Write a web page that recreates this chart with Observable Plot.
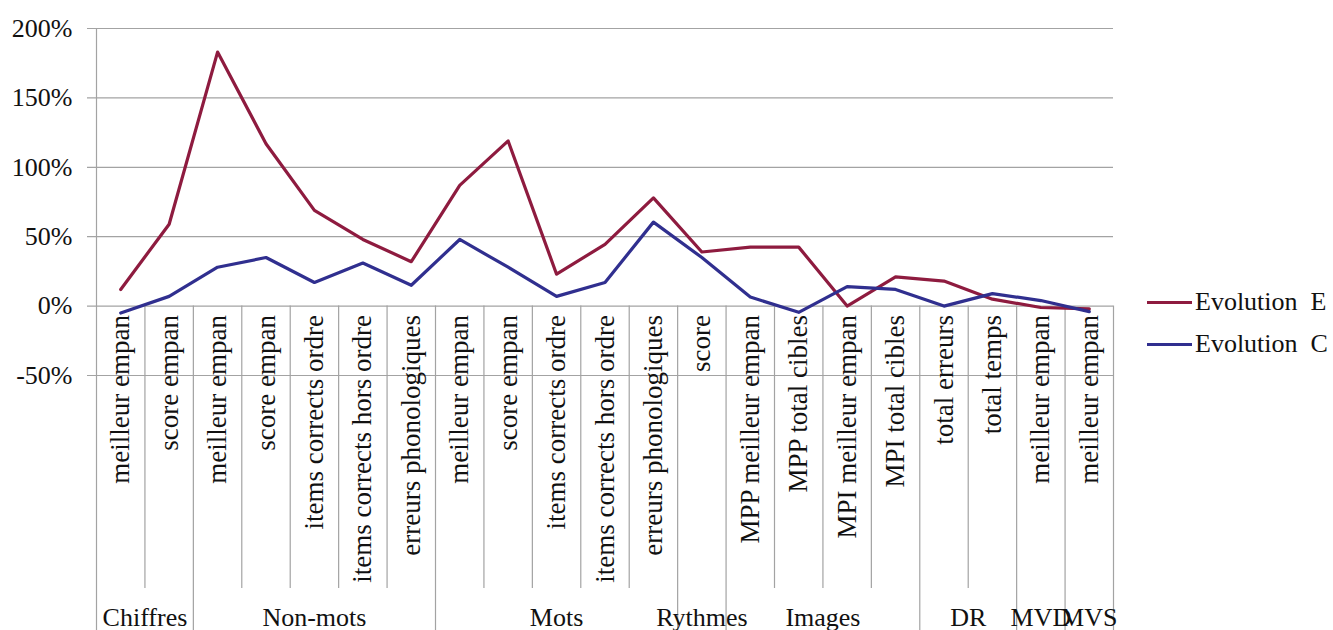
<!DOCTYPE html>
<html><head><meta charset="utf-8">
<script src="https://cdn.jsdelivr.net/npm/d3@7"></script>
<script src="https://cdn.jsdelivr.net/npm/@observablehq/plot@0.6"></script>
<style>
body{margin:0;background:#fff;}
#wrap{position:relative;width:1333px;height:630px;overflow:hidden;}
#legend{position:absolute;left:1147px;top:281px;font-family:'Liberation Serif',serif;font-size:26px;color:#111;}
.row{display:flex;align-items:center;height:42px;white-space:pre;}
.sw{width:45px;height:3px;margin-right:3px;}
</style></head><body><div id="wrap"><div id="legend"></div></div>
<script>
// ---- data ----
const categories = ["meilleur empan","score empan","meilleur empan","score empan","items corrects ordre","items corrects hors ordre","erreurs phonologiques","meilleur empan","score empan","items corrects ordre","items corrects hors ordre","erreurs phonologiques","score","MPP meilleur empan","MPP total cibles","MPI meilleur empan","MPI total cibles","total erreurs","total temps","meilleur empan","meilleur empan"];
const groupNames = ["Chiffres","Non-mots","Mots","Rythmes","Images","DR","MVD","MVS"];
const groupSizes = [2,5,5,1,4,2,1,1];
const evolutionE = [12,59,183,117,69,48,32,87,119,23,44.5,78,39,42.5,42.5,0,21,18,5,-1,-2];
const evolutionC = [-5,7,28,35,17,31,15,48,28,7,17,60.5,35,6.5,-4.5,14,12,0,9,4,-4];
const yTicks = [-50,0,50,100,150,200];
const seriesNames = ["Evolution  E","Evolution  C"];
const seriesColors = ["#8e1b3f","#302f8f"];

// ---- derived tables ----
const rows = categories.map((label,i)=>({pos:i+0.5,label}));
const long = [
  ...evolutionE.map((v,i)=>({pos:i+0.5,value:v,series:seriesNames[0]})),
  ...evolutionC.map((v,i)=>({pos:i+0.5,value:v,series:seriesNames[1]}))
];
const edges = [0]; groupSizes.forEach(n=>edges.push(edges[edges.length-1]+n));
const groups = groupNames.map((name,k)=>({name,center:(edges[k]+edges[k+1])/2}));
const inner = d3.range(1,categories.length).filter(v=>!edges.includes(v));
const groupEdges = edges.filter(v=>v>0);

const font = "Liberation Serif";
const grid = "#a3a3a3";

const chart = Plot.plot({
  width:1333, height:630,
  marginLeft:96, marginRight:220, marginTop:28, marginBottom:255,
  style:{fontFamily:font,fontSize:"26px",color:"#111",background:"transparent",overflow:"visible"},
  x:{domain:[0,categories.length],axis:null},
  y:{domain:[-50,200],label:null,axis:null},
  color:{domain:seriesNames,range:seriesColors},
  marks:[
    Plot.ruleY(yTicks,{stroke:grid,strokeWidth:1.2,insetLeft:-9}),
    Plot.ruleX([0],{y1:200,y2:-50,insetBottom:-255,stroke:grid,strokeWidth:1.2}),
    Plot.ruleX(groupEdges,{y1:0,y2:-50,insetBottom:-255,stroke:grid,strokeWidth:1.2}),
    Plot.ruleX(inner,{y1:0,y2:-50,insetBottom:-213,stroke:grid,strokeWidth:1.2}),
    Plot.axisY(yTicks,{tickSize:0,tickPadding:24,tickFormat:d=>d+"%",fontSize:26,fontFamily:font,fill:"#111",label:null}),
    Plot.text(rows,{x:"pos",y:0,text:"label",rotate:-90,textAnchor:"end",dy:9,fontSize:27,fontFamily:font,fill:"#111"}),
    Plot.text(groups,{x:"center",y:-50,dy:242,text:"name",fontSize:26,fontFamily:font,fill:"#111"}),
    Plot.line(long,{x:"pos",y:"value",z:"series",stroke:"series",strokeWidth:3.2,curve:"linear"})
  ]
});
document.getElementById("wrap").prepend(chart);

const lg = document.getElementById("legend");
seriesNames.forEach((n,k)=>{
  const r = document.createElement("div"); r.className="row";
  const s = document.createElement("div"); s.className="sw"; s.style.background=seriesColors[k];
  const t = document.createElement("span"); t.textContent=n;
  r.append(s,t); lg.append(r);
});
</script></body></html>
